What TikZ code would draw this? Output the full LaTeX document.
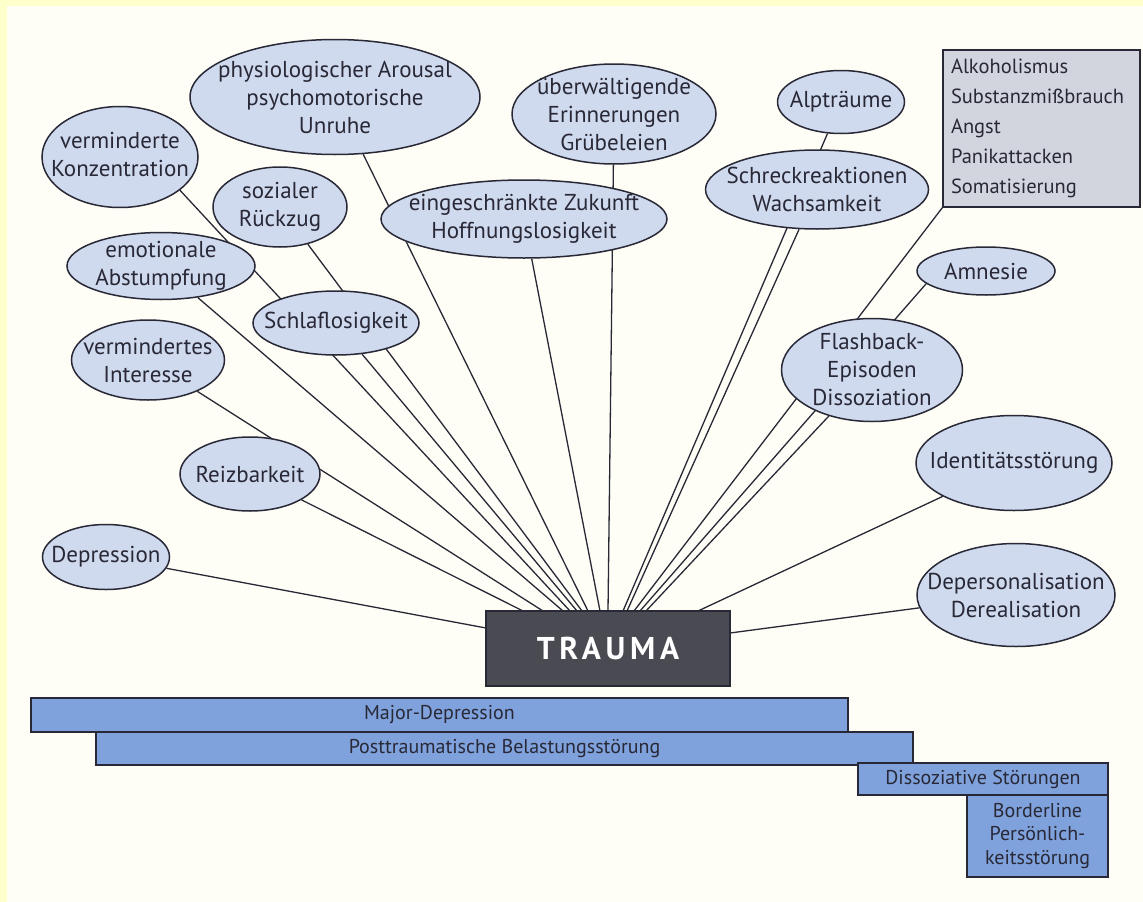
\documentclass[tikz,border=0pt]{standalone}
\usepackage{fontspec}
\setmainfont{PT Sans}
\usepackage{xcolor}
\usetikzlibrary{shapes}
\tikzset{>=latex}
\definecolor{paper}{RGB}{254,254,246}
\definecolor{rimcol}{RGB}{255,255,204}
\definecolor{bubcol}{RGB}{208,218,238}
\definecolor{barcol}{RGB}{128,162,220}
\definecolor{boxcol}{RGB}{210,213,222}
\definecolor{traumacol}{RGB}{74,74,82}
\definecolor{inkcol}{RGB}{40,40,54}
\pgfdeclarelayer{background}
\pgfdeclarelayer{links}
\pgfsetlayers{background,links,main}
\tikzstyle{bubble}=[ellipse,draw=inkcol,line width=1.5pt,fill=bubcol,inner sep=0pt]
\tikzstyle{link}=[line width=1.3pt,inkcol]
\tikzstyle{disorder}=[rectangle,draw=inkcol,line width=1.3pt,fill=barcol,inner sep=0pt,
                      text=inkcol,font=\fontsize{20}{23.5}\selectfont,align=center]
\tikzset{
  bubtext/.style={text=inkcol,font=\fontsize{23}{28}\selectfont,align=center,inner sep=0pt},
  dims/.style 2 args={minimum width=#1pt,minimum height=#2pt}}

\begin{document}
\begin{tikzpicture}[x=1pt,y=-1pt]

  % PAPER
  \begin{pgfonlayer}{background}
    \fill[rimcol] (0,0) rectangle (1143,902);
    \fill[paper] (7,6) rectangle (1143,902);
  \end{pgfonlayer}

  % TRAUMA
  \node[draw=inkcol,line width=1.3pt,fill=traumacol,dims={244}{75},text=white,
        font=\fontsize{31.5}{31.5}\selectfont\bfseries] (trauma) at (608,648.5)
    {\addfontfeature{LetterSpace=15}TRAUMA};
  \foreach \x in {523,543,563,570,577,582,588,600,608,623,627,634,640,646,698}{
    \coordinate (t\x) at (\x,611);
  }
  \coordinate (tl) at (486,628);
  \coordinate (tr) at (730,633);

  % SYMPTOMS, LEFT
  \node[bubble,dims={290}{115},label={[bubtext]center:{physiologischer Arousal\\psychomotorische\\Unruhe}}] (arousal) at (335,97) {};
  \node[bubble,dims={156}{101},label={[bubtext,yshift=3pt]center:{verminderte\\Konzentration}}] (konz) at (120,157) {};
  \node[bubble,dims={134}{80},label={[bubtext]center:{sozialer\\Rückzug}}] (rueckzug) at (280,207) {};
  \node[bubble,dims={188}{67},label={[bubtext]center:{emotionale\\Abstumpfung}}] (abstumpf) at (161,266) {};
  \node[bubble,dims={166}{64},label={[bubtext]center:{Schlaflosigkeit}}] (schlaf) at (336,323) {};
  \node[bubble,dims={153}{80},label={[bubtext]center:{vermindertes\\Interesse}}] (interesse) at (148,360) {};
  \node[bubble,dims={140}{74},label={[bubtext]center:{Reizbarkeit}}] (reiz) at (250,474) {};
  \node[bubble,dims={127}{65},label={[bubtext]center:{Depression}}] (depr) at (106,557) {};

  % SYMPTOMS, MIDDLE AND RIGHT
  \node[bubble,dims={204}{100},label={[bubtext]center:{überwältigende\\Erinnerungen\\Grübeleien}}] (erinner) at (614,114) {};
  \node[bubble,dims={286}{78},label={[bubtext]center:{eingeschränkte Zukunft\\Hoffnungslosigkeit}}] (zukunft) at (524,219) {};
  \node[bubble,dims={127}{63},label={[bubtext]center:{Alpträume}}] (alp) at (841,102) {};
  \node[bubble,dims={223}{79},label={[bubtext]center:{Schreckreaktionen\\Wachsamkeit}}] (schreck) at (817,189.5) {};
  \node[bubble,dims={138}{48},label={[bubtext]center:{Amnesie}}] (amnesie) at (986,271) {};
  \node[bubble,dims={181}{103},label={[bubtext]center:{Flashback-\\Episoden\\Dissoziation}}] (flash) at (872,370) {};
  \node[bubble,dims={196}{95},label={[bubtext]center:{Identitätsstörung}}] (ident) at (1014,463) {};
  \node[bubble,dims={198}{103},label={[bubtext]center:{Depersonalisation\\Derealisation}}] (depers) at (1016,595) {};

  \node[draw=inkcol,line width=1.3pt,fill=boxcol,dims={197}{157},text width=181pt,inner xsep=8pt,
        align=left,text=inkcol,font=\fontsize{20.5}{30}\selectfont] (alk) at (1041.5,128.5)
    {Alkoholismus\\Substanzmißbrauch\\Angst\\Panikattacken\\Somatisierung};

  % LINKS
  \begin{pgfonlayer}{links}
    \draw[link] (depr) -- (tl);
    \draw[link] (reiz) -- (t523);
    \draw[link] (interesse) -- (t543);
    \draw[link] (abstumpf) -- (t563);
    \draw[link] (konz.-29) -- (t570);
    \draw[link] (schlaf) -- (t577);
    \draw[link] (rueckzug) -- (t582);
    \draw[link] (arousal) -- (t588);
    \draw[link] (zukunft) -- (t600);
    \draw[link] (erinner) -- (t608);
    \draw[link] (alp) -- (t623);
    \draw[link] (schreck) -- (t627);
    \draw[link] (alk.south west) -- (t634);
    \draw[link] (amnesie.192) -- (t640);
    \draw[link] (flash) -- (t646);
    \draw[link] (ident) -- (t698);
    \draw[link] (depers) -- (tr);
  \end{pgfonlayer}

  % DISORDERS
  \node[disorder,dims={817}{34}] (major) at (439.5,715) {Major-Depression};
  \node[disorder,dims={817}{33}] (ptbs) at (504.5,748.5) {Posttraumatische Belastungsstörung};
  \node[disorder,dims={250}{32}] (dissoz) at (983,779) {Dissoziative Störungen};
  \node[disorder,dims={141}{82}] (border) at (1037.5,836) {Borderline\\Persönlich-\\keitsstörung};

\end{tikzpicture}
\end{document}
